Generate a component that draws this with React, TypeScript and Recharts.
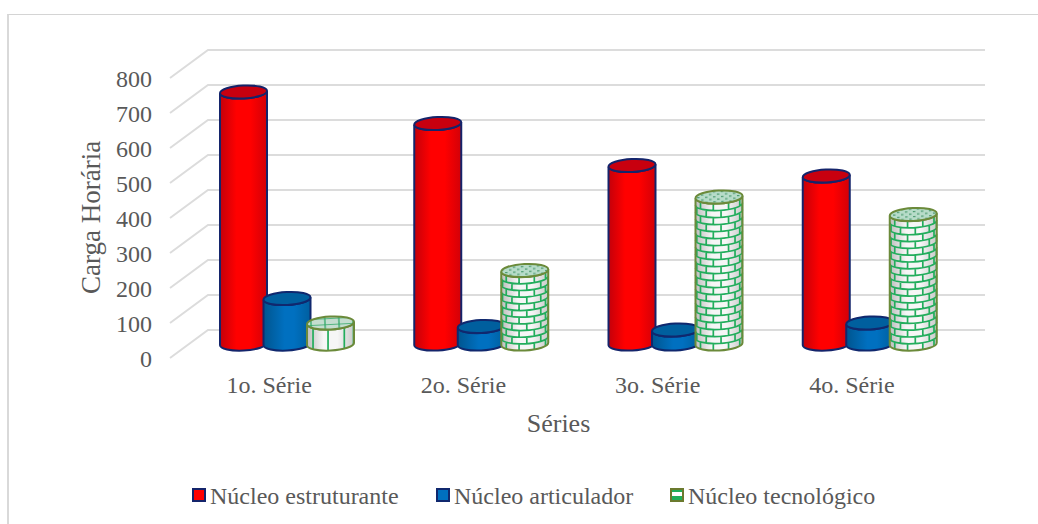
import React from 'react';
import { Bar, BarChart, CartesianGrid, Legend, XAxis, YAxis } from 'recharts';

const categories = ['1o. Série', '2o. Série', '3o. Série', '4o. Série'];
const estruturante = [720, 630, 510, 480];
const articulador = [130, 50, 40, 60];
const tecnologico = [60, 210, 420, 370];
const yTicks = [0, 100, 200, 300, 400, 500, 600, 700, 800];

const data = categories.map((name, i) => ({
  name,
  estruturante: estruturante[i],
  articulador: articulador[i],
  tecnologico: tecnologico[i],
}));

const FONT = '"Liberation Serif", "Times New Roman", serif';
const TEXT = '#595959';
const GRID = '#dcdcdc';
const RY = 6.5;
const TILT = -3;

// the floor runs from the front (labels) to the back wall, bars stand half way
const DEPTH_Y = 14;
const FRONT_X = 170;
const BACK_X = 208;
const BACK_RIGHT = 985;

function GridLine({ y1 }: any) {
  return (
    <path
      d={`M${FRONT_X},${y1 + DEPTH_Y}L${BACK_X},${y1 - DEPTH_Y}L${BACK_RIGHT},${y1 - DEPTH_Y}`}
      fill="none"
      stroke={GRID}
      strokeWidth={2}
    />
  );
}

function YTick({ y, payload }: any) {
  return (
    <text x={152} y={y + 22.5} textAnchor="end" fontFamily={FONT} fontSize={24} fill={TEXT}>
      {payload.value}
    </text>
  );
}

function XTick({ x, payload }: any) {
  return (
    <text x={x - 18} y={393} textAnchor="middle" fontFamily={FONT} fontSize={24} fill={TEXT}>
      {payload.value}
    </text>
  );
}

function bodyPath(x: number, y: number, w: number, h: number) {
  const r = w / 2;
  return `M${x},${y + 1.2}L${x},${y + h + 1.2}A${r},${RY} ${TILT} 0 0 ${x + w},${y + h - 1.2}L${x + w},${y - 1.2}A${r},${RY} ${TILT} 0 1 ${x},${y + 1.2}Z`;
}

function Cylinder({ x, y, width, height, body, cap, stroke }: any) {
  const cx = x + width / 2;
  return (
    <g>
      <path d={bodyPath(x, y, width, height)} fill={body} stroke={stroke} strokeWidth={2} />
      <ellipse
        cx={cx}
        cy={y}
        rx={width / 2}
        ry={RY}
        transform={`rotate(${TILT} ${cx} ${y})`}
        fill={cap}
        stroke={stroke}
        strokeWidth={2}
      />
    </g>
  );
}

function BrickCylinder({ x, y, width, height }: any) {
  const r = width / 2;
  const cx = x + r;
  const short = height < 25;
  const rows = short ? 1 : Math.round(height / 6.9);
  const rowH = height / rows;
  const step = short ? 42 : 38;
  const lines: string[] = [];
  for (let i = 0; i < rows; i++) {
    const top = y + i * rowH;
    if (i > 0) lines.push(`M${x},${top + 1.2}A${r},${RY} ${TILT} 0 0 ${x + width},${top - 1.2}`);
    const start = !short && i % 2 ? -90 + step / 2 : -90 + step;
    for (let a = start; a < 90; a += step) {
      const rad = (a * Math.PI) / 180;
      const px = cx + r * Math.sin(rad);
      const py = RY * Math.cos(rad) - 1.2 * Math.sin(rad);
      lines.push(`M${px},${top + py}L${px},${top + rowH + py}`);
    }
  }
  return (
    <g>
      <path d={bodyPath(x, y, width, height)} fill="url(#brickBody)" />
      <path d={lines.join('')} fill="none" stroke="#22ad5c" strokeWidth={1.7} />
      <path d={bodyPath(x, y, width, height)} fill="none" stroke="#6b8a3a" strokeWidth={2} />
      <ellipse
        cx={cx}
        cy={y}
        rx={r}
        ry={RY}
        transform={`rotate(${TILT} ${cx} ${y})`}
        fill={short ? 'url(#brickCapWide)' : 'url(#brickCap)'}
        stroke="#6b8a3a"
        strokeWidth={2}
      />
    </g>
  );
}

const redShape = (p: any) => <Cylinder {...p} body="url(#redBody)" cap="#c8000f" stroke="#14246b" />;
const blueShape = (p: any) => <Cylinder {...p} body="url(#blueBody)" cap="#005f9e" stroke="#10286e" />;
const brickShape = (p: any) => <BrickCylinder {...p} />;

const legendItems = [
  { label: 'Núcleo estruturante', swatch: 192, text: 210, fill: '#ff0000', stroke: '#14246b' },
  { label: 'Núcleo articulador', swatch: 436, text: 454, fill: '#0070c0', stroke: '#10286e' },
  { label: 'Núcleo tecnológico', swatch: 670, text: 688, fill: 'brick', stroke: '#6b7a2e' },
];

function LegendBox() {
  return (
    <div style={{ position: 'relative', width: 0, height: 0 }}>
      {legendItems.map((item) => (
        <React.Fragment key={item.label}>
          <div
            style={{
              position: 'absolute',
              left: item.swatch,
              top: 488,
              width: 10,
              height: 10,
              border: `2px solid ${item.stroke}`,
              background:
                item.fill === 'brick'
                  ? 'linear-gradient(#1fae5a 0 2px, #fff 2px 6px, #1fae5a 6px 100%)'
                  : item.fill,
            }}
          />
          <div
            style={{
              position: 'absolute',
              left: item.text,
              top: 483,
              fontFamily: FONT,
              fontSize: 24,
              lineHeight: '26px',
              color: TEXT,
              whiteSpace: 'nowrap',
            }}
          >
            {item.label}
          </div>
        </React.Fragment>
      ))}
    </div>
  );
}

export default function App() {
  return (
    <div style={{ position: 'absolute', left: 0, top: 0, width: 1038, height: 524, overflow: 'hidden', background: '#fff' }}>
      <div
        style={{
          position: 'absolute',
          left: 7,
          top: 14,
          right: 0,
          bottom: 0,
          borderLeft: '2px solid #d9d9d9',
          borderTop: '1px solid #d4d4d4',
        }}
      />
      <div style={{ position: 'absolute', left: 0, top: 0 }}>
        <BarChart
          width={1038}
          height={524}
          data={data}
          margin={{ top: 64, right: 71, bottom: 0, left: 0 }}
          barSize={47}
          barGap={-3.5}
        >
          <defs>
            <linearGradient id="redBody" x1="0" y1="0" x2="1" y2="0">
              <stop offset="0%" stopColor="#c4000a" />
              <stop offset="35%" stopColor="#ff0000" />
              <stop offset="65%" stopColor="#ff0000" />
              <stop offset="100%" stopColor="#d20008" />
            </linearGradient>
            <linearGradient id="blueBody" x1="0" y1="0" x2="1" y2="0">
              <stop offset="0%" stopColor="#00558f" />
              <stop offset="45%" stopColor="#0070c0" />
              <stop offset="65%" stopColor="#0070c0" />
              <stop offset="100%" stopColor="#005f9f" />
            </linearGradient>
            <linearGradient id="brickBody" x1="0" y1="0" x2="1" y2="0">
              <stop offset="0%" stopColor="#bdbdbd" />
              <stop offset="35%" stopColor="#f6f6f6" />
              <stop offset="65%" stopColor="#f6f6f6" />
              <stop offset="100%" stopColor="#c9c9c9" />
            </linearGradient>
            <pattern id="brickCap" patternUnits="userSpaceOnUse" width="8" height="5">
              <rect width="8" height="5" fill="#b7dcc9" />
              <rect x="1" y="1" width="2.5" height="1.2" fill="#4c9a70" />
              <rect x="5" y="3.5" width="2.5" height="1.2" fill="#4c9a70" />
            </pattern>
            <pattern id="brickCapWide" patternUnits="userSpaceOnUse" width="14" height="6">
              <rect width="14" height="6" fill="#c4ddcf" />
              <path d="M0,0H14M3,0V6" stroke="#2fa866" strokeWidth="1.3" />
            </pattern>
          </defs>
          <CartesianGrid vertical={false} horizontal={<GridLine />} />
          <XAxis
            dataKey="name"
            height={180}
            axisLine={false}
            tickLine={false}
            interval={0}
            tick={<XTick />}
            label={{
              value: 'Séries',
              position: 'insideTop',
              offset: 70,
              dx: -20,
              fontFamily: FONT,
              fontSize: 26,
              fill: TEXT,
            }}
          />
          <YAxis
            width={190}
            domain={[0, 800]}
            ticks={yTicks}
            interval={0}
            axisLine={false}
            tickLine={false}
            tick={<YTick />}
            label={{
              value: 'Carga Horária',
              angle: -90,
              position: 'insideLeft',
              offset: 90,
              dy: 90,
              fontFamily: FONT,
              fontSize: 27,
              fill: TEXT,
            }}
          />
          <Legend content={<LegendBox />} wrapperStyle={{ left: 0, top: 0, bottom: 'auto', width: 0, height: 0 }} />
          <Bar dataKey="estruturante" name="Núcleo estruturante" shape={redShape} isAnimationActive={false} />
          <Bar dataKey="articulador" name="Núcleo articulador" shape={blueShape} isAnimationActive={false} />
          <Bar dataKey="tecnologico" name="Núcleo tecnológico" shape={brickShape} isAnimationActive={false} />
        </BarChart>
      </div>
    </div>
  );
}
